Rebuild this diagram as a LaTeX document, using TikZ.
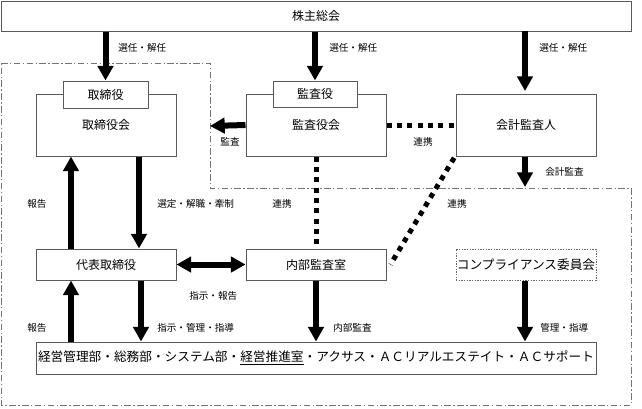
\documentclass[tikz,border=0pt]{standalone}
\usepackage{fontspec}
\setmainfont{Noto Sans CJK JP}
\usetikzlibrary{arrows.meta}
\begin{document}
\begin{tikzpicture}[x=0.75pt,y=-0.75pt,
  box/.style={draw=black!65, line width=0.75pt, fill=white, inner sep=0pt, font=\fontsize{9}{10}\selectfont},
  lbl/.style={font=\fontsize{7.2}{8}\selectfont, inner sep=0pt},
  bigarrow/.style={line width=4.5pt, -{Triangle[width=11.5pt,length=11pt]}},
  dblarrow/.style={line width=4.5pt, {Triangle[width=11.5pt,length=11pt]}-{Triangle[width=11.5pt,length=11pt]}},
  dotline/.style={line width=3.75pt, dash pattern=on 3.75pt off 4pt},
  region/.style={draw=black!55, line width=0.6pt, dash pattern=on 5pt off 1.8pt on 1pt off 1.8pt}]
\useasboundingbox (0,0) rectangle (642,408);

% dash-dot region
\draw[region] (1,63) -- (210,63) -- (210,188) -- (631,188) -- (631,405) -- (1,405) -- cycle;

% boxes
\node[box, minimum width=472.5pt, minimum height=22.5pt] (sh) at (316,16) {株主総会};
\node[box, minimum width=105pt, minimum height=46.5pt] (tb) at (106,125) {取締役会};
\node[box, minimum width=63.75pt, minimum height=20.25pt] (tbs) at (105.5,94.5) {取締役};
\node[box, minimum width=105pt, minimum height=46.5pt] (ka) at (316,125) {監査役会};
\node[box, minimum width=63pt, minimum height=19.5pt] (kas) at (315,94) {監査役};
\node[box, minimum width=105pt, minimum height=46.5pt] (ak) at (526,125) {会計監査人};
\node[box, minimum width=105pt, minimum height=23.25pt] (dt) at (106,264.5) {代表取締役};
\node[box, minimum width=105pt, minimum height=23.25pt] (nb) at (316,264.5) {内部監査室};
\node[box, draw=black!60, dash pattern=on 1pt off 1pt, minimum width=105pt, minimum height=23.25pt, font=\fontsize{9.5}{10}\selectfont] (cp) at (526,264.5) {コンプライアンス委員会};
\node[box, minimum width=420pt, minimum height=24pt, font=\fontsize{9.5}{10}\selectfont] (bt) at (316,358) {経営管理部・総務部・システム部・\underline{経営推進室}・アクサス・ＡＣリアルエステイト・ＡＣサポート};

% free ends
\coordinate (kaL) at (210,126);
\coordinate (akD) at (525,187);

% arrows from 株主総会
\draw[bigarrow] (tbs.north |- sh.south) -- (tbs.north);
\draw[bigarrow] (kas.north |- sh.south) -- (kas.north);
\draw[bigarrow] (525,31) -- (525,91);
\node[lbl, anchor=west] (l1) at (118,48) {選任・解任};
\node[lbl, anchor=west] (l2) at (329,48) {選任・解任};
\node[lbl, anchor=west] (l3) at (539,48) {選任・解任};

% 監査
\draw[bigarrow] (ka.west) -- (kaL);
\node[lbl] (l4) at (230,142) {監査};

% 連携 dotted
\draw[dotline] (ka.east) -- (ak.west);
\node[lbl] (l5) at (423,142) {連携};
\draw[dotline] (ka.south) -- (nb.north);
\node[lbl] (l6) at (282,204) {連携};
\draw[dotline] ([xshift=-1pt,yshift=-1pt]ak.south west) -- ([xshift=3pt]nb.east);
\node[lbl] (l7) at (457,204) {連携};

% 会計監査
\draw[bigarrow] (ak.south -| akD) -- (akD);
\node[lbl, anchor=west] (l8) at (545,172) {会計監査};

% 取締役会 <-> 代表取締役
\draw[bigarrow] (dt.north -| 71,0) -- (tb.south -| 71,0);
\draw[bigarrow] (tb.south -| 139,0) -- (dt.north -| 139,0);
\node[lbl] (l9) at (37,204) {報告};
\node[lbl, anchor=west] (l10) at (157,204) {選定・解職・牽制};

% 代表取締役 <-> 内部監査室
\draw[dblarrow] (dt.east) -- (nb.west);
\node[lbl, anchor=west] (l11) at (189,296) {指示・報告};

% to bottom
\draw[bigarrow] (bt.north -| 71,0) -- (dt.south -| 71,0);
\draw[bigarrow] (dt.south -| 141,0) -- (bt.north -| 141,0);
\draw[bigarrow] (nb.south) -- (nb.south |- bt.north);
\draw[bigarrow] (cp.south -| 525,0) -- (bt.north -| 525,0);
\node[lbl] (l12) at (37,328) {報告};
\node[lbl, anchor=west] (l13) at (157,328) {指示・管理・指導};
\node[lbl, anchor=west] (l14) at (333,328) {内部監査};
\node[lbl, anchor=west] (l15) at (540,328) {管理・指導};
\end{tikzpicture}
\end{document}
